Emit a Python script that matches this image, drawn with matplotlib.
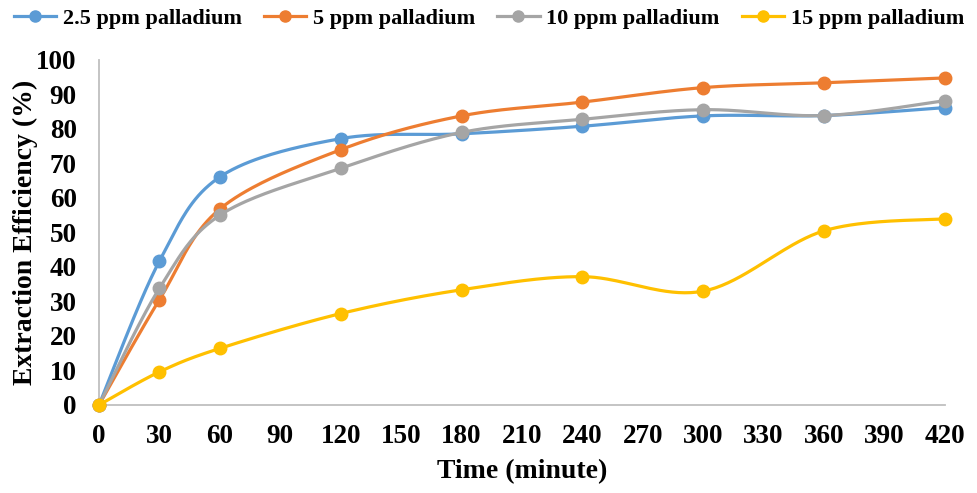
import numpy as np
import matplotlib
matplotlib.use("Agg")
import matplotlib.pyplot as plt
from matplotlib.lines import Line2D

time = [0, 30, 60, 120, 180, 240, 300, 360, 420]
pd_2_5 = [0, 41.7, 66.1, 77.2, 78.6, 80.8, 83.8, 83.9, 86.2]
pd_5 = [0, 30.5, 56.8, 74.0, 83.8, 87.8, 92.0, 93.4, 94.8]
pd_10 = [0, 33.8, 55.0, 68.6, 79.0, 82.8, 85.6, 83.9, 88.2]
pd_15 = [0, 9.6, 16.4, 26.5, 33.4, 37.2, 33.0, 50.5, 54.0]
labels = ["2.5 ppm palladium", "5 ppm palladium", "10 ppm palladium", "15 ppm palladium"]
colors = ["#5B9BD5", "#ED7D31", "#A5A5A5", "#FFC000"]
xticks = list(range(0, 421, 30))
yticks = list(range(0, 101, 10))

FONT = "Liberation Serif"

def smooth(x, y, sx=2.014, sy=3.45, n=40):
    # Excel-like smoothing (Catmull-Rom Bezier) in display-proportional space
    P = np.column_stack([np.asarray(x, float) * sx, np.asarray(y, float) * sy])
    m = len(P)
    out = []
    for i in range(m - 1):
        p0 = P[i - 1] if i > 0 else P[i]
        p1 = P[i]
        p2 = P[i + 1]
        p3 = P[i + 2] if i + 2 < m else P[i + 1]
        c1 = p1 + (p2 - p0) / 6.0
        c2 = p2 - (p3 - p1) / 6.0
        t = np.linspace(0, 1, n)[:, None]
        seg = ((1 - t) ** 3) * p1 + 3 * ((1 - t) ** 2) * t * c1 + 3 * (1 - t) * t ** 2 * c2 + t ** 3 * p2
        out.append(seg if i == 0 else seg[1:])
    S = np.vstack(out)
    return S[:, 0] / sx, S[:, 1] / sy

fig = plt.figure(figsize=(9.78, 4.93), dpi=100)
ax = fig.add_axes([0.1012, 0.1785, 0.865, 0.6998])

series = [pd_2_5, pd_5, pd_10, pd_15]
handles = []
for i, (vals, lab, c) in enumerate(zip(series, labels, colors)):
    xs, ys = smooth(time, vals)
    ax.plot(xs, ys, color=c, lw=2.3, zorder=2 + i, clip_on=False, solid_capstyle="round")
    ax.plot(time, vals, "o", color=c, ms=9, zorder=2 + i, clip_on=False)
    handles.append(Line2D([0], [0], color=c, lw=2.3, marker="o", ms=8))

ax.set_xlim(0, 420)
ax.set_ylim(0, 100)
ax.set_xticks(xticks)
ax.set_yticks(yticks)
ax.tick_params(axis="both", length=0, labelsize=19.5)
ax.tick_params(axis="x", pad=14)
ax.tick_params(axis="y", pad=16)
for lab in ax.get_xticklabels() + ax.get_yticklabels():
    lab.set_fontfamily(FONT)
    lab.set_fontweight("bold")

for s in ["top", "right"]:
    ax.spines[s].set_visible(False)
for s in ["left", "bottom"]:
    ax.spines[s].set_color("#BFBFBF")
    ax.spines[s].set_linewidth(1.3)

ax.set_xlabel("Time (minute)", fontsize=20, fontfamily=FONT, fontweight="bold", labelpad=7)
ax.set_ylabel("Extraction Efficiency (%)", fontsize=20, fontfamily=FONT, fontweight="bold", labelpad=-1)

fig.legend(handles, labels, loc="center", bbox_to_anchor=(0.5, 0.962), ncol=4, frameon=False,
           prop={"family": FONT, "weight": "bold", "size": 16}, handlelength=1.9,
           handletextpad=0.3, columnspacing=1.0)

fig.savefig("out.png", dpi=100, facecolor="white")
